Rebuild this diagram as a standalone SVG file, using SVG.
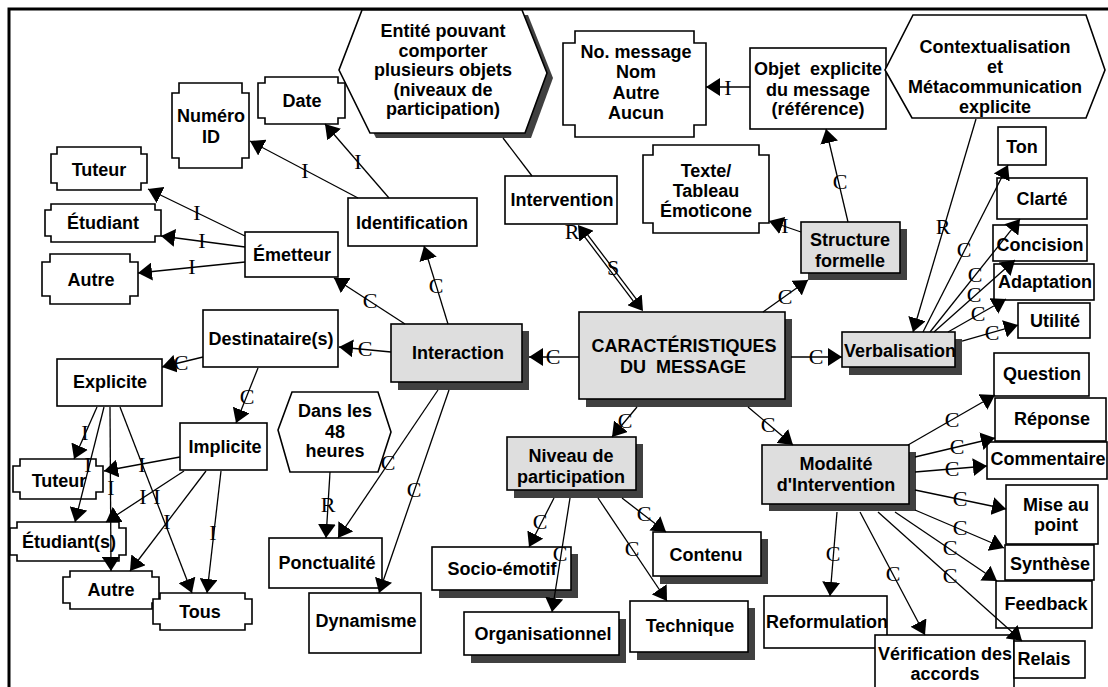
<svg xmlns="http://www.w3.org/2000/svg" width="1108" height="687" viewBox="0 0 1108 687">
<defs>
<style>
.bx{fill:#fff;stroke:#000;stroke-width:1.6}
.gr{fill:#dedede;stroke:#000;stroke-width:1.6}
.sh{fill:#404040}
.t{font-family:"Liberation Sans",Arial,Helvetica,sans-serif;font-weight:bold;font-size:18px;text-anchor:middle;white-space:pre;fill:#000}
.ln{fill:none;stroke:#000;stroke-width:1.3;marker-end:url(#ah)}
.pl{fill:none;stroke:#000;stroke-width:1.3}
.mk{fill:none;stroke:none;marker-start:url(#ah);marker-end:url(#ah)}
.lb{font-family:"Liberation Serif","Times New Roman",serif;font-size:22px;text-anchor:middle;fill:#000}
</style>
<marker id="ah" viewBox="0 0 14 18" refX="14" refY="9" markerWidth="14" markerHeight="18" markerUnits="userSpaceOnUse" orient="auto-start-reverse"><path d="M0,0 L14,9 L0,18 Z" fill="#000"/></marker>
</defs>

<rect width="1108" height="687" fill="#fff"/>
<path d="M9,687 V9 H1108" fill="none" stroke="#000" stroke-width="3"/>

<g id="nodes">
  <!-- central concept -->
  <g id="n-caracteristiques">
    <rect class="sh" x="586" y="319" width="206" height="88"/>
    <rect class="gr" x="579" y="312" width="206" height="87"/>
    <text class="t" x="684" y="352">CARACTÉRISTIQUES</text>
    <text class="t" x="683" y="373" xml:space="preserve">DU  MESSAGE</text>
  </g>
  <g id="n-interaction">
    <rect class="sh" x="398" y="331" width="131" height="59"/>
    <rect class="gr" x="391" y="324" width="131" height="58"/>
    <text class="t" x="458" y="359">Interaction</text>
  </g>
  <g id="n-verbalisation">
    <rect class="sh" x="849" y="339" width="113" height="36"/>
    <rect class="gr" x="842" y="332" width="113" height="35"/>
    <text class="t" x="900" y="357">Verbalisation</text>
  </g>
  <g id="n-structure">
    <rect class="sh" x="808" y="229" width="99" height="51"/>
    <rect class="gr" x="801" y="222" width="99" height="51"/>
    <text class="t" x="850" y="246">Structure</text>
    <text class="t" x="850" y="267">formelle</text>
  </g>
  <g id="n-niveau">
    <rect class="sh" x="514" y="444" width="129" height="54"/>
    <rect class="gr" x="507" y="437" width="129" height="53"/>
    <text class="t" x="571" y="462">Niveau de</text>
    <text class="t" x="571" y="483">participation</text>
  </g>
  <g id="n-modalite">
    <rect class="sh" x="769" y="452" width="147" height="59"/>
    <rect class="gr" x="762" y="445" width="147" height="59"/>
    <text class="t" x="836" y="470">Modalité</text>
    <text class="t" x="836" y="491">d'Intervention</text>
  </g>

  <!-- identification branch -->
  <g id="n-entite">
    <path class="sh" d="M368,15 H528 L553,78 L531,138 H376 L345,75 Z"/>
    <path class="bx" d="M362,10 H522 L547,73 L525,133 H370 L339,70 Z"/>
    <text class="t" x="443" y="37">Entité pouvant</text>
    <text class="t" x="443" y="56.5">comporter</text>
    <text class="t" x="443" y="76">plusieurs objets</text>
    <text class="t" x="443" y="95.5">(niveaux de</text>
    <text class="t" x="443" y="115">participation)</text>
  </g>
  <g id="n-intervention">
    <rect class="bx" x="505" y="176" width="112" height="48"/>
    <text class="t" x="562" y="206">Intervention</text>
  </g>
  <g id="n-identification">
    <rect class="bx" x="348" y="198" width="129" height="48"/>
    <text class="t" x="412" y="229">Identification</text>
  </g>
  <g id="n-date">
    <path class="bx" d="M265,77 H338 V83 H345 V118 H338 V124 H265 V118 H258 V83 H265 Z"/>
    <text class="t" x="302" y="107">Date</text>
  </g>
  <g id="n-numero">
    <path class="bx" d="M179,83 H242 V93 H249 V158 H242 V168 H179 V158 H172 V93 H179 Z"/>
    <text class="t" x="211" y="122">Numéro</text>
    <text class="t" x="211" y="142.5">ID</text>
  </g>
  <g id="n-emetteur">
    <rect class="bx" x="245" y="232" width="93" height="45"/>
    <text class="t" x="292" y="261">Émetteur</text>
  </g>
  <g id="n-tuteur-e">
    <path class="bx" d="M57,147 H141 V154 H147 V183 H141 V190 H57 V183 H51 V154 H57 Z"/>
    <text class="t" x="99" y="176">Tuteur</text>
  </g>
  <g id="n-etudiant-e">
    <path class="bx" d="M51,204 H155 V210 H161 V236 H155 V242 H51 V236 H45 V210 H51 Z"/>
    <text class="t" x="103" y="229">Étudiant</text>
  </g>
  <g id="n-autre-e">
    <path class="bx" d="M50,254 H130 V262 H138 V296 H130 V304 H50 V296 H42 V262 H50 Z"/>
    <text class="t" x="91" y="286">Autre</text>
  </g>
  <g id="n-destinataires">
    <rect class="bx" x="203" y="310" width="135" height="57"/>
    <text class="t" x="271" y="345">Destinataire(s)</text>
  </g>
  <g id="n-explicite">
    <rect class="bx" x="57" y="359" width="105" height="47"/>
    <text class="t" x="110" y="388">Explicite</text>
  </g>
  <g id="n-implicite">
    <rect class="bx" x="180" y="423" width="87" height="47"/>
    <text class="t" x="225" y="453">Implicite</text>
  </g>
  <g id="n-tuteur-d">
    <path class="bx" d="M20,459 H96 V466 H103 V492 H96 V499 H20 V492 H13 V466 H20 Z"/>
    <text class="t" x="59" y="486.5">Tuteur</text>
  </g>
  <g id="n-etudiants-d">
    <path class="bx" d="M17,522 H119 V528 H126 V555 H119 V561 H17 V555 H10 V528 H17 Z"/>
    <text class="t" x="69" y="548">Étudiant(s)</text>
  </g>
  <g id="n-autre-d">
    <path class="bx" d="M70,571 H152 V577 H159 V603 H152 V609 H70 V603 H63 V577 H70 Z"/>
    <text class="t" x="111" y="596">Autre</text>
  </g>
  <g id="n-tous">
    <path class="bx" d="M160,593 H245 V599 H252 V624 H245 V630 H160 V624 H153 V599 H160 Z"/>
    <text class="t" x="200" y="618">Tous</text>
  </g>
  <g id="n-48h">
    <path class="bx" d="M292,392 H378 L391,432 L378,472 H290 L278,430 Z"/>
    <text class="t" x="335" y="417">Dans les</text>
    <text class="t" x="335" y="438">48</text>
    <text class="t" x="335" y="457">heures</text>
  </g>
  <g id="n-ponctualite">
    <rect class="bx" x="269" y="538" width="113" height="50"/>
    <text class="t" x="327" y="569">Ponctualité</text>
  </g>
  <g id="n-dynamisme">
    <rect class="bx" x="309" y="593" width="112" height="60"/>
    <text class="t" x="366" y="627">Dynamisme</text>
  </g>

  <!-- participation levels -->
  <g id="n-socio">
    <rect class="sh" x="439" y="554" width="139" height="44"/>
    <rect class="bx" x="432" y="547" width="139" height="43"/>
    <text class="t" x="502" y="575">Socio-émotif</text>
  </g>
  <g id="n-organisationnel">
    <rect class="sh" x="471" y="619" width="155" height="44"/>
    <rect class="bx" x="464" y="612" width="155" height="43"/>
    <text class="t" x="543" y="640">Organisationnel</text>
  </g>
  <g id="n-contenu">
    <rect class="sh" x="660" y="539" width="108" height="45"/>
    <rect class="bx" x="653" y="532" width="108" height="44"/>
    <text class="t" x="706" y="561">Contenu</text>
  </g>
  <g id="n-technique">
    <rect class="sh" x="637" y="608" width="118" height="52"/>
    <rect class="bx" x="630" y="601" width="118" height="51"/>
    <text class="t" x="690" y="632">Technique</text>
  </g>

  <!-- formal structure -->
  <g id="n-nomessage">
    <path class="bx" d="M575,31 H694 V43 H706 V125 H694 V137 H575 V125 H563 V43 H575 Z"/>
    <text class="t" x="636" y="58">No. message</text>
    <text class="t" x="636" y="78">Nom</text>
    <text class="t" x="636" y="99">Autre</text>
    <text class="t" x="636" y="119">Aucun</text>
  </g>
  <g id="n-objet">
    <rect class="bx" x="750" y="48" width="136" height="81"/>
    <text class="t" x="818" y="75" xml:space="preserve">Objet  explicite</text>
    <text class="t" x="818" y="95.5">du message</text>
    <text class="t" x="818" y="115">(référence)</text>
  </g>
  <g id="n-texte">
    <path class="bx" d="M653,145 H759 V155 H769 V223 H759 V233 H653 V223 H643 V155 H653 Z"/>
    <text class="t" x="706" y="176.5">Texte/</text>
    <text class="t" x="706" y="196.5">Tableau</text>
    <text class="t" x="706" y="217">Émoticone</text>
  </g>

  <!-- verbalisation -->
  <g id="n-contexte">
    <path class="bx" d="M913,15 H1086 L1105,70 L1086,118 H912 L885,70 Z"/>
    <text class="t" x="995" y="53">Contextualisation</text>
    <text class="t" x="995" y="73">et</text>
    <text class="t" x="995" y="93">Métacommunication</text>
    <text class="t" x="995" y="113">explicite</text>
  </g>
  <g id="n-ton">
    <rect class="bx" x="998" y="127" width="48" height="38"/>
    <text class="t" x="1022" y="153">Ton</text>
  </g>
  <g id="n-clarte">
    <rect class="bx" x="997" y="178" width="90" height="41"/>
    <text class="t" x="1042" y="205">Clarté</text>
  </g>
  <g id="n-concision">
    <rect class="bx" x="993" y="225" width="94" height="36"/>
    <text class="t" x="1040" y="250.5">Concision</text>
  </g>
  <g id="n-adaptation">
    <rect class="bx" x="994" y="264" width="100" height="36"/>
    <text class="t" x="1045" y="288">Adaptation</text>
  </g>
  <g id="n-utilite">
    <rect class="bx" x="1018" y="303" width="72" height="35"/>
    <text class="t" x="1055" y="327">Utilité</text>
  </g>

  <!-- intervention modes -->
  <g id="n-question">
    <rect class="bx" x="994" y="353" width="95" height="43"/>
    <text class="t" x="1042" y="380">Question</text>
  </g>
  <g id="n-reponse">
    <rect class="bx" x="995" y="398" width="111" height="43"/>
    <text class="t" x="1052" y="425">Réponse</text>
  </g>
  <g id="n-commentaire">
    <rect class="bx" x="987" y="442" width="120" height="37"/>
    <text class="t" x="1048" y="465">Commentaire</text>
  </g>
  <g id="n-miseaupoint">
    <rect class="bx" x="1006" y="485" width="92" height="59"/>
    <text class="t" x="1056" y="511">Mise au</text>
    <text class="t" x="1056" y="531">point</text>
  </g>
  <g id="n-synthese">
    <rect class="bx" x="1005" y="545" width="89" height="35"/>
    <text class="t" x="1050" y="570">Synthèse</text>
  </g>
  <g id="n-feedback">
    <rect class="bx" x="996" y="581" width="96" height="47"/>
    <text class="t" x="1046" y="610">Feedback</text>
  </g>
  <g id="n-reformulation">
    <rect class="bx" x="764" y="596" width="123" height="52"/>
    <text class="t" x="827" y="628">Reformulation</text>
  </g>
  <g id="n-verification">
    <rect class="bx" x="875" y="635" width="139" height="62"/>
    <text class="t" x="945" y="660">Vérification des</text>
    <text class="t" x="945" y="680">accords</text>
  </g>
  <g id="n-relais">
    <rect class="bx" x="1014" y="641" width="71" height="37"/>
    <text class="t" x="1044" y="665">Relais</text>
  </g>
</g>

<g id="connectors">
  <!-- from the central concept -->
  <g><line class="ln" x1="579" y1="357" x2="529" y2="357"/><text class="lb" x="553" y="364">C</text></g>
  <g><line class="ln" x1="763" y1="312" x2="808" y2="280"/><text class="lb" x="785" y="304">C</text></g>
  <g><line class="ln" x1="791" y1="357" x2="842" y2="357"/><text class="lb" x="816" y="364">C</text></g>
  <g><line class="ln" x1="748" y1="407" x2="793" y2="445"/><text class="lb" x="768" y="432">C</text></g>
  <g><line class="ln" x1="637" y1="407" x2="612" y2="437"/><text class="lb" x="625" y="428">C</text></g>
  <g>
    <line class="pl" x1="585.4" y1="231.9" x2="638.4" y2="301.9"/>
    <line class="pl" x1="582.6" y1="234.1" x2="635.6" y2="304.1"/>
    <path class="mk" d="M578,225 L643,311"/>
    <text class="lb" x="572" y="239">R</text>
    <text class="lb" x="613" y="275">S</text>
  </g>

  <!-- interaction -->
  <g><line class="ln" x1="448" y1="324" x2="424" y2="246"/><text class="lb" x="436" y="293">C</text></g>
  <g><line class="ln" x1="405" y1="324" x2="334" y2="278"/><text class="lb" x="370" y="308">C</text></g>
  <g><line class="ln" x1="391" y1="352" x2="339" y2="347"/><text class="lb" x="365" y="356">C</text></g>
  <g><line class="ln" x1="438" y1="390" x2="338" y2="538"/><text class="lb" x="388" y="470">C</text></g>
  <g><line class="ln" x1="449" y1="390" x2="379" y2="593"/><text class="lb" x="414" y="497">C</text></g>
  <g><line class="ln" x1="330" y1="472" x2="326" y2="538"/><text class="lb" x="328" y="512">R</text></g>
  <g><line class="pl" x1="503" y1="138" x2="532" y2="176"/></g>

  <!-- identification -->
  <g><line class="ln" x1="358" y1="198" x2="250" y2="141"/><text class="lb" x="305" y="178">I</text></g>
  <g><line class="ln" x1="389" y1="198" x2="325" y2="124"/><text class="lb" x="358" y="169">I</text></g>

  <!-- sender -->
  <g><line class="ln" x1="245" y1="236" x2="148" y2="189"/><text class="lb" x="197" y="220">I</text></g>
  <g><line class="ln" x1="245" y1="247" x2="161" y2="236"/><text class="lb" x="202" y="248">I</text></g>
  <g><line class="ln" x1="245" y1="262" x2="138" y2="273"/><text class="lb" x="192" y="274">I</text></g>

  <!-- recipients -->
  <g><line class="ln" x1="203" y1="357" x2="162" y2="367"/><text class="lb" x="181" y="370">C</text></g>
  <g><line class="ln" x1="258" y1="368" x2="236" y2="423"/><text class="lb" x="247" y="404">C</text></g>
  <g><line class="ln" x1="97" y1="407" x2="74" y2="459"/><text class="lb" x="85" y="440">I</text></g>
  <g><line class="ln" x1="104" y1="407" x2="75" y2="522"/><text class="lb" x="88" y="472">I</text></g>
  <g><line class="ln" x1="110" y1="407" x2="111" y2="571"/><text class="lb" x="111" y="495">I</text></g>
  <g><line class="ln" x1="120" y1="407" x2="192" y2="593"/><text class="lb" x="157" y="504">I</text></g>
  <g><line class="ln" x1="180" y1="457" x2="104" y2="471"/><text class="lb" x="142" y="472">I</text></g>
  <g><line class="ln" x1="184" y1="471" x2="106" y2="522"/><text class="lb" x="143" y="504">I</text></g>
  <g><line class="ln" x1="206" y1="471" x2="130" y2="571"/><text class="lb" x="167" y="529">I</text></g>
  <g><line class="ln" x1="221" y1="471" x2="207" y2="593"/><text class="lb" x="213" y="540">I</text></g>

  <!-- formal structure -->
  <g><line class="ln" x1="848" y1="222" x2="826" y2="129"/><text class="lb" x="840" y="189">C</text></g>
  <g><line class="ln" x1="801" y1="232" x2="769" y2="221"/><text class="lb" x="785" y="233">I</text></g>
  <g><line class="ln" x1="750" y1="87" x2="706" y2="87"/><text class="lb" x="728" y="95">I</text></g>

  <!-- verbalisation -->
  <g><line class="ln" x1="976" y1="119" x2="913" y2="332"/><text class="lb" x="943" y="234">R</text></g>
  <g><line class="ln" x1="923" y1="332" x2="1008" y2="165"/><text class="lb" x="964" y="257">C</text></g>
  <g><line class="ln" x1="930" y1="332" x2="1020" y2="219"/><text class="lb" x="975" y="282">C</text></g>
  <g><line class="ln" x1="934" y1="332" x2="1015" y2="260"/><text class="lb" x="974" y="302">C</text></g>
  <g><line class="ln" x1="948" y1="332" x2="1006" y2="299"/><text class="lb" x="978" y="321">C</text></g>
  <g><line class="ln" x1="962" y1="341" x2="1018" y2="325"/><text class="lb" x="992" y="340">C</text></g>

  <!-- intervention modes -->
  <g><line class="ln" x1="908" y1="445" x2="995" y2="395"/><text class="lb" x="952" y="427">C</text></g>
  <g><line class="ln" x1="915" y1="457" x2="995" y2="438"/><text class="lb" x="957" y="454">C</text></g>
  <g><line class="ln" x1="915" y1="472" x2="987" y2="466"/><text class="lb" x="952" y="476">C</text></g>
  <g><line class="ln" x1="915" y1="490" x2="1006" y2="509"/><text class="lb" x="960" y="506">C</text></g>
  <g><line class="ln" x1="915" y1="510" x2="1004" y2="548"/><text class="lb" x="960" y="535">C</text></g>
  <g><line class="ln" x1="895" y1="512" x2="997" y2="581"/><text class="lb" x="950" y="555">C</text></g>
  <g><line class="ln" x1="878" y1="512" x2="1022" y2="641"/><text class="lb" x="950" y="583">C</text></g>
  <g><line class="ln" x1="860" y1="512" x2="925" y2="635"/><text class="lb" x="893" y="581">C</text></g>
  <g><line class="ln" x1="837" y1="512" x2="830" y2="596"/><text class="lb" x="833" y="561">C</text></g>

  <!-- participation levels -->
  <g><line class="ln" x1="554" y1="498" x2="529" y2="547"/><text class="lb" x="540" y="529">C</text></g>
  <g><line class="ln" x1="570" y1="498" x2="552" y2="612"/><text class="lb" x="560" y="561">C</text></g>
  <g><line class="ln" x1="598" y1="498" x2="667" y2="601"/><text class="lb" x="632" y="556">C</text></g>
  <g><line class="ln" x1="622" y1="498" x2="666" y2="532"/><text class="lb" x="644" y="521">C</text></g>
</g>
</svg>
